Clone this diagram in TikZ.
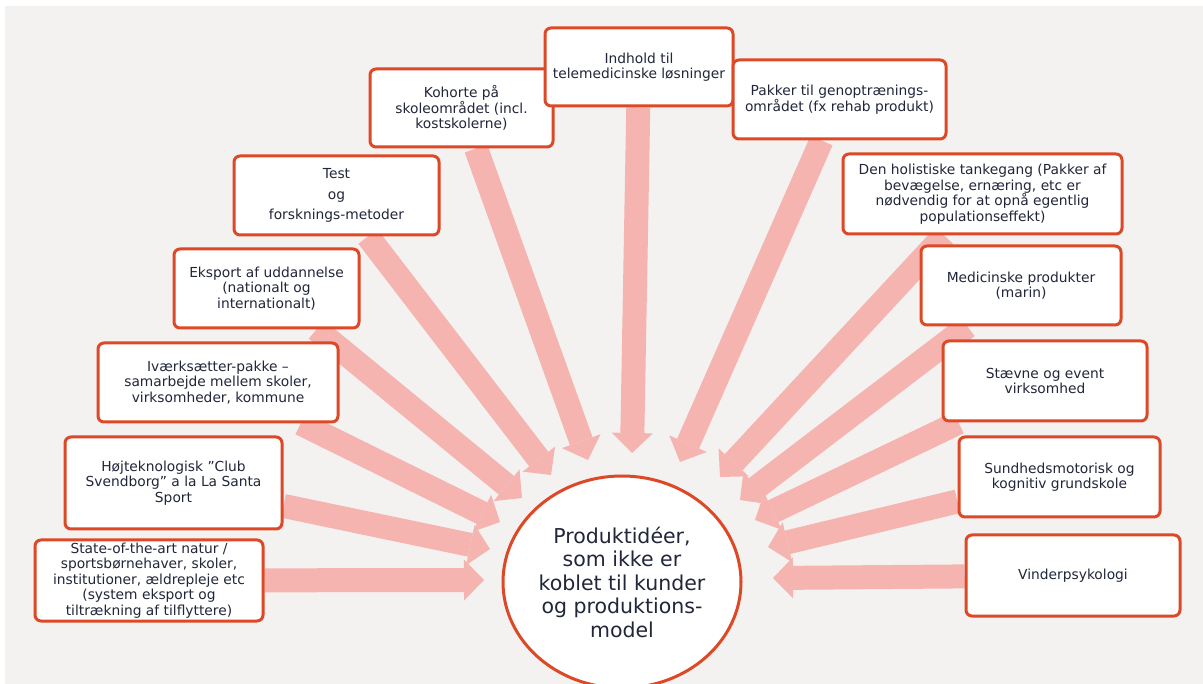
\documentclass[tikz,border=0pt]{standalone}
\usepackage{fontspec}
\setmainfont{DejaVu Sans}
\usetikzlibrary{calc,arrows.meta,shapes.geometric}
\definecolor{pagegray}{RGB}{243,242,240}
\definecolor{boxline}{RGB}{221,73,38}
\definecolor{flowpink}{RGB}{245,180,175}
\definecolor{inktext}{RGB}{33,38,58}
\pgfdeclarelayer{flow}
\pgfsetlayers{flow,main}
\newcommand{\boxfont}{\fontsize{13.8}{15.6}\selectfont}
\newcommand{\makefeed}[3]{
	\coordinate (#1tip) at (#2,#3);
	\begin{pgfonlayer}{flow}
	\draw[flowpink, line width=24pt, -{Triangle[width=41pt,length=20pt,line width=0pt]}] (#1) -- (#1tip);
	\end{pgfonlayer}
}

\begin{document}
\begin{tikzpicture}[x=1pt,y=-1pt,
	idea/.style={draw=boxline, line width=3pt, rounded corners=6pt, fill=white,
		text=inktext, align=center, inner sep=0pt, font=\boxfont}]
	\useasboundingbox (0,0) rectangle (1203,684);
	\begin{pgfonlayer}{flow}
	\fill[pagegray] (5,6) rectangle (1203,684);
	\end{pgfonlayer}

	\node[ellipse, draw=boxline, line width=3pt, fill=white, text=inktext, align=center,
		minimum width=238pt, minimum height=212pt, inner sep=0pt,
		font=\fontsize{20.5}{23.5}\selectfont] (core) at (622,582)
		{Produktidéer,\\som ikke er\\koblet til kunder\\og produktions-\\model};

	% left side
	\node[idea, minimum width=228pt, minimum height=81pt] (state) at (149,580.5)
		{State-of-the-art natur /\\sportsbørnehaver, skoler,\\institutioner, ældrepleje etc\\(system eksport og\\tiltrækning af tilflyttere)};
	\node[idea, minimum width=217pt, minimum height=92pt] (hojtek) at (173.5,483)
		{Højteknologisk ”Club\\Svendborg” a la La Santa\\Sport};
	\node[idea, minimum width=240pt, minimum height=79pt] (ivaerk) at (218,382.5)
		{Iværksætter-pakke –\\samarbejde mellem skoler,\\virksomheder, kommune};
	\node[idea, minimum width=185pt, minimum height=79pt] (eksport) at (266.5,288.5)
		{Eksport af uddannelse\\(nationalt og\\internationalt)};
	\node[idea, minimum width=205pt, minimum height=79pt] (test) at (336.5,195.5)
		{Test\\[4.5pt]og\\[4.5pt]forsknings-metoder};
	\node[idea, minimum width=183pt, minimum height=78pt] (kohorte) at (461.5,108)
		{Kohorte på\\skoleområdet (incl.\\kostskolerne)};

	% top and right side
	\node[idea, minimum width=188pt, minimum height=78pt] (indhold) at (639,67)
		{Indhold til\\telemedicinske løsninger};
	\node[idea, minimum width=213pt, minimum height=79pt] (pakker) at (839.5,99.5)
		{Pakker til genoptrænings-\\området (fx rehab produkt)};
	\node[idea, minimum width=279pt, minimum height=80pt] (holist) at (982.5,194)
		{Den holistiske tankegang (Pakker af\\bevægelse, ernæring, etc er\\nødvendig for at opnå egentlig\\populationseffekt)};
	\node[idea, minimum width=200pt, minimum height=79pt] (medicin) at (1021,285.5)
		{Medicinske produkter\\(marin)};
	\node[idea, minimum width=204pt, minimum height=80pt] (staevne) at (1045,381)
		{Stævne og event\\virksomhed};
	\node[idea, minimum width=201pt, minimum height=80pt] (sundhed) at (1059.5,477)
		{Sundhedsmotorisk og\\kognitiv grundskole};
	\node[idea, minimum width=214pt, minimum height=81pt] (vinder) at (1073,575.5)
		{Vinderpsykologi};

	\makefeed{state}{484}{580}
	\makefeed{hojtek}{490}{549}
	\makefeed{ivaerk}{500}{522}
	\makefeed{eksport}{522}{498}
	\makefeed{test}{551}{475}
	\makefeed{kohorte}{588}{460}
	\makefeed{indhold}{632}{453}
	\makefeed{pakker}{680}{462}
	\makefeed{holist}{720}{477}
	\makefeed{medicin}{740}{500}
	\makefeed{staevne}{755}{520}
	\makefeed{sundhed}{768}{547}
	\makefeed{vinder}{773}{578}
\end{tikzpicture}
\end{document}
